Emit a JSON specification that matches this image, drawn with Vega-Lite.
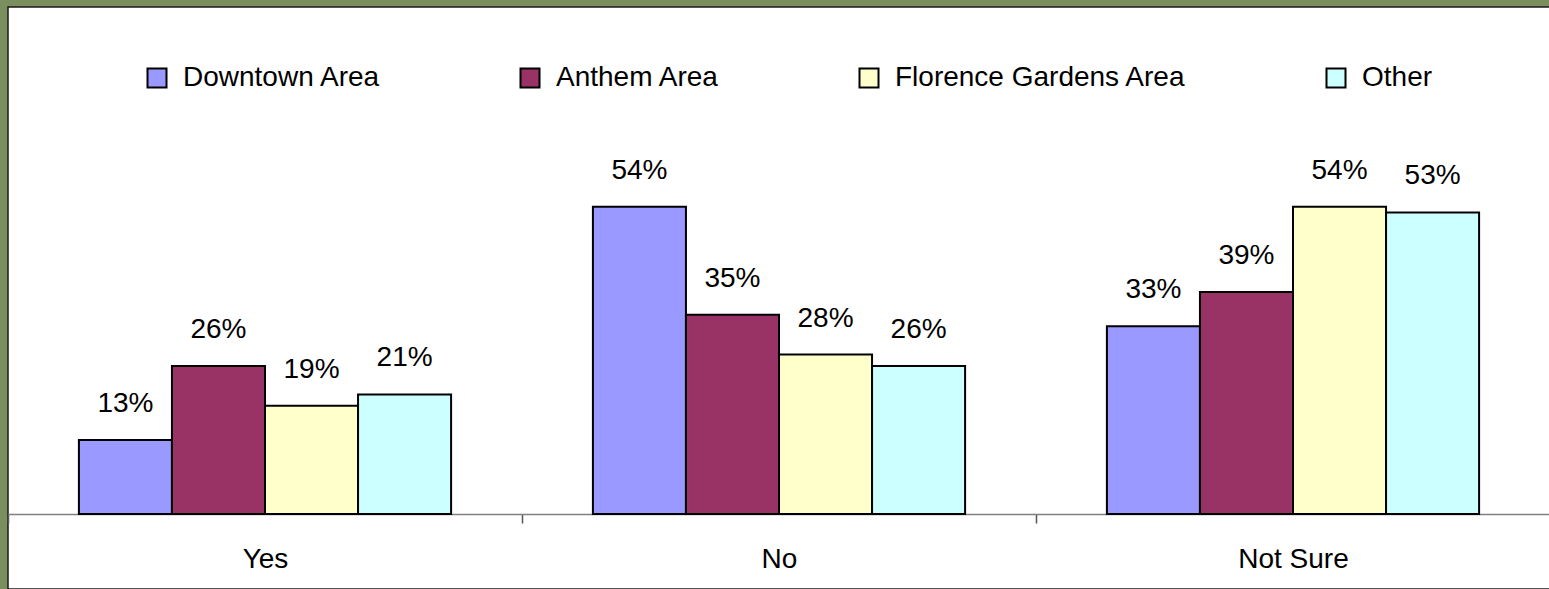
{
  "$schema": "https://vega.github.io/schema/vega-lite/v6.json",
  "width": 1542,
  "height": 582,
  "padding": {"left": 7, "top": 7, "right": 0, "bottom": 0},
  "background": "#7b8f5e",
  "config": {
    "font": "Liberation Sans",
    "view": {"fill": "white", "stroke": "#1a1a1a", "strokeWidth": 1.5}
  },
  "data": {
    "values": [
      {"answer": "Yes", "area": "Downtown Area", "pct": 0.13},
      {"answer": "Yes", "area": "Anthem Area", "pct": 0.26},
      {"answer": "Yes", "area": "Florence Gardens Area", "pct": 0.19},
      {"answer": "Yes", "area": "Other", "pct": 0.21},
      {"answer": "No", "area": "Downtown Area", "pct": 0.54},
      {"answer": "No", "area": "Anthem Area", "pct": 0.35},
      {"answer": "No", "area": "Florence Gardens Area", "pct": 0.28},
      {"answer": "No", "area": "Other", "pct": 0.26},
      {"answer": "Not Sure", "area": "Downtown Area", "pct": 0.33},
      {"answer": "Not Sure", "area": "Anthem Area", "pct": 0.39},
      {"answer": "Not Sure", "area": "Florence Gardens Area", "pct": 0.54},
      {"answer": "Not Sure", "area": "Other", "pct": 0.53}
    ]
  },
  "encoding": {
    "x": {
      "field": "answer",
      "type": "nominal",
      "sort": ["Yes", "No", "Not Sure"],
      "scale": {"paddingInner": 0, "paddingOuter": 0},
      "axis": {
        "title": null,
        "labelAngle": 0,
        "labelFontSize": 28,
        "labelColor": "black",
        "labelPadding": 22,
        "domainColor": "#808080",
        "domainWidth": 1.5,
        "tickColor": "#555555",
        "tickWidth": 1.5,
        "tickSize": 9,
        "tickBand": "extent",
        "grid": false,
        "offset": -75
      }
    },
    "xOffset": {
      "field": "area",
      "type": "nominal",
      "sort": ["Downtown Area", "Anthem Area", "Florence Gardens Area", "Other"],
      "scale": {"paddingInner": 0, "paddingOuter": 0.762}
    },
    "y": {
      "field": "pct",
      "type": "quantitative",
      "scale": {"domain": [-0.132, 0.891], "nice": false, "zero": false},
      "axis": null
    }
  },
  "layer": [
    {
      "mark": {"type": "bar", "stroke": "black", "strokeWidth": 2, "opacity": 1},
      "encoding": {
        "y2": {"datum": 0},
        "color": {
          "field": "area",
          "type": "nominal",
          "scale": {
            "domain": ["Downtown Area", "Anthem Area", "Florence Gardens Area", "Other"],
            "range": ["#9999FF", "#993366", "#FFFFCC", "#CCFFFF"]
          },
          "legend": {
            "orient": "none",
            "legendX": 135,
            "legendY": 57,
            "direction": "horizontal",
            "title": null,
            "padding": 0,
            "symbolType": "square",
            "symbolSize": 361,
            "symbolStrokeColor": "black",
            "symbolStrokeWidth": 2,
            "symbolOpacity": 1,
            "labelFontSize": 28,
            "labelColor": "black",
            "labelLimit": 600,
            "labelOffset": 12,
            "columnPadding": 135
          }
        }
      }
    },
    {
      "mark": {"type": "text", "dy": -28, "baseline": "alphabetic", "fontSize": 28, "color": "black"},
      "encoding": {
        "text": {"field": "pct", "type": "quantitative", "format": ".0%"}
      }
    }
  ]
}
